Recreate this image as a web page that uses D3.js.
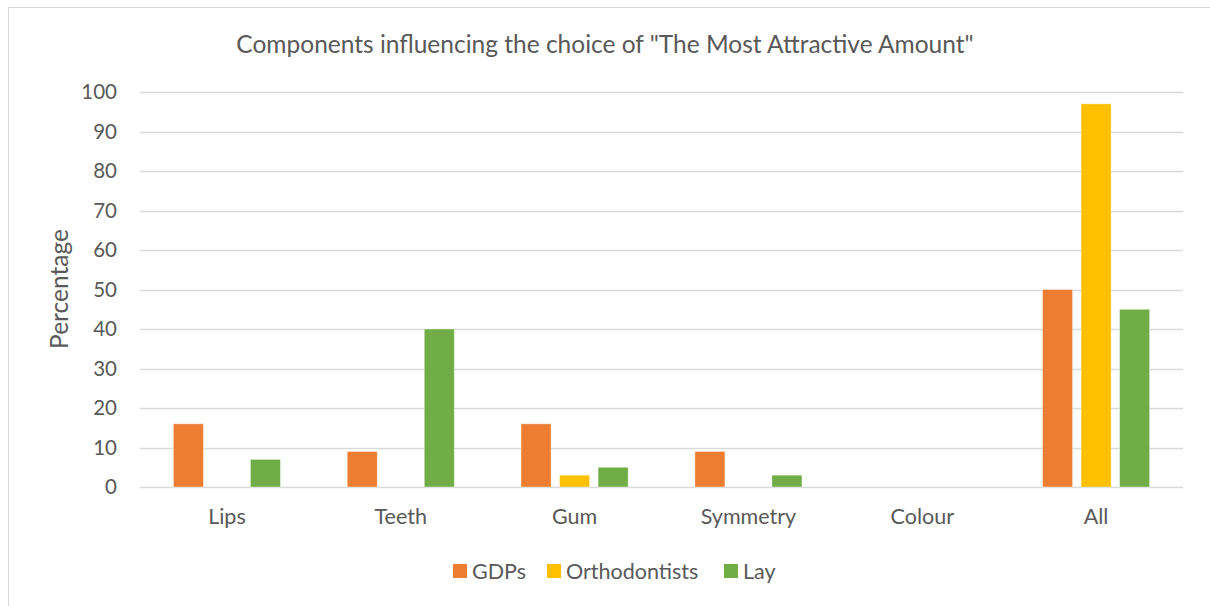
<!DOCTYPE html>
<html>
<head>
<meta charset="utf-8">
<script src="https://cdn.jsdelivr.net/npm/d3@7"></script>
<style>
  html, body { margin: 0; padding: 0; background: #fff; }
  svg { display: block; font-family: Lato, "Open Sans", sans-serif; }
</style>
</head>
<body>
<svg id="chart" width="1210" height="606"></svg>
<script>
// Survey results: share of respondents naming each component
const categories = ["Lips", "Teeth", "Gum", "Symmetry", "Colour", "All"];
const seriesNames = ["GDPs", "Orthodontists", "Lay"];
const gdps          = [16, 9, 16, 9, 0, 50];
const orthodontists = [0, 0, 3, 0, 0, 97];
const lay           = [7, 40, 5, 3, 0, 45];
const yTicks = [0, 10, 20, 30, 40, 50, 60, 70, 80, 90, 100];
const colors = ["#ED7D31", "#FFC000", "#70AD47"];

const values = [gdps, orthodontists, lay];
const rows = categories.map((c, i) => ({
  category: c,
  items: seriesNames.map((s, k) => ({ series: s, value: values[k][i] }))
}));

const svg = d3.select("#chart");
const textColor = "#595959";
const plot = { left: 140, right: 1183, top: 92, bottom: 487 };

// chart frame
svg.append("rect")
  .attr("x", 8.5).attr("y", 7.5)
  .attr("width", 1220).attr("height", 620)
  .attr("fill", "none").attr("stroke", "#d9d9d9").attr("stroke-width", 1);

const x0 = d3.scaleBand()
  .domain(categories)
  .range([plot.left, plot.right])
  .paddingInner(0.384)
  .paddingOuter(0.192);

const x1 = d3.scaleBand()
  .domain(seriesNames)
  .range([0, x0.bandwidth()])
  .paddingInner(0.22);

const y = d3.scaleLinear().domain([0, 100]).range([plot.bottom, plot.top]);

// gridlines
svg.append("g")
  .selectAll("line")
  .data(yTicks)
  .join("line")
  .attr("x1", plot.left).attr("x2", plot.right)
  .attr("y1", d => Math.round(y(d)) + 0.5)
  .attr("y2", d => Math.round(y(d)) + 0.5)
  .attr("stroke", "#d9d9d9").attr("stroke-width", 1.3);

// y axis labels
const yAxis = d3.axisLeft(y).tickValues(yTicks).tickSize(0).tickPadding(0);
const ya = svg.append("g").attr("transform", `translate(117,0)`).call(yAxis);
ya.select(".domain").remove();
ya.selectAll("text")
  .attr("fill", textColor)
  .style("font-size", "20.5px")
  .style("font-family", "Lato, 'Open Sans', sans-serif");

// bars
const groups = svg.append("g")
  .selectAll("g")
  .data(rows)
  .join("g")
  .attr("transform", d => `translate(${x0(d.category)},0)`);

groups.selectAll("rect")
  .data(d => d.items.filter(it => it.value > 0))
  .join("rect")
  .attr("x", d => x1(d.series))
  .attr("width", x1.bandwidth())
  .attr("y", d => y(d.value))
  .attr("height", d => y(0) - y(d.value))
  .attr("fill", d => colors[seriesNames.indexOf(d.series)])
  .attr("stroke", "#ffffff")
  .attr("stroke-opacity", 0.5)
  .attr("stroke-width", 0.8);

// x axis labels
const xAxis = d3.axisBottom(x0).tickSize(0).tickPadding(0);
const xa = svg.append("g").attr("transform", `translate(0,${plot.bottom + 22})`).call(xAxis);
xa.select(".domain").remove();
xa.selectAll("text")
  .attr("fill", textColor)
  .attr("dy", "0.71em")
  .style("font-size", "21.5px")
  .style("font-family", "Lato, 'Open Sans', sans-serif");

// title
svg.append("text")
  .attr("x", 605).attr("y", 53)
  .attr("text-anchor", "middle")
  .attr("fill", textColor)
  .style("font-size", "24.5px")
  .text('Components influencing the choice of "The Most Attractive Amount"');

// y axis title
svg.append("text")
  .attr("transform", "translate(68,289) rotate(-90)")
  .attr("text-anchor", "middle")
  .attr("fill", textColor)
  .style("font-size", "24.5px")
  .text("Percentage");

// legend
const legendItems = [
  { name: "GDPs", x: 453 },
  { name: "Orthodontists", x: 547 },
  { name: "Lay", x: 724 }
];
const lg = svg.append("g")
  .selectAll("g")
  .data(legendItems)
  .join("g")
  .attr("transform", d => `translate(${d.x},564)`);
lg.append("rect")
  .attr("width", 14).attr("height", 14)
  .attr("fill", (d, i) => colors[i]);
lg.append("text")
  .attr("x", 19).attr("y", 14.5)
  .attr("fill", textColor)
  .style("font-size", "21.5px")
  .text(d => d.name);
</script>
</body>
</html>
